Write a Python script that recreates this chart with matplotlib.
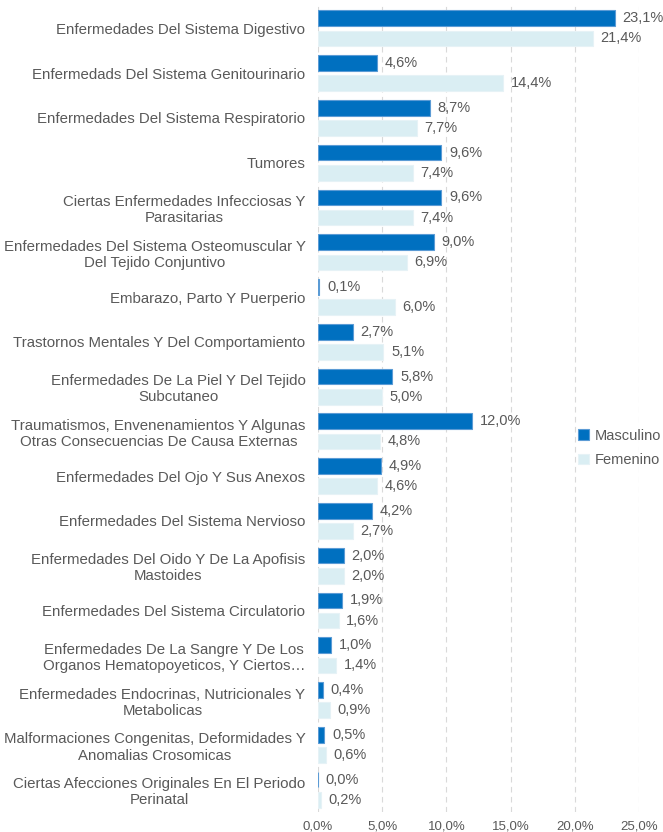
import numpy as np
import matplotlib.pyplot as plt

plt.rcParams['font.family'] = ['Liberation Sans', 'DejaVu Sans']

categories = [
    "Enfermedades Del Sistema Digestivo",
    "Enfermedads Del Sistema Genitourinario",
    "Enfermedades Del Sistema Respiratorio",
    "Tumores",
    "Ciertas Enfermedades Infecciosas Y\nParasitarias",
    "Enfermedades Del Sistema Osteomuscular Y\nDel Tejido Conjuntivo",
    "Embarazo, Parto Y Puerperio",
    "Trastornos Mentales Y Del Comportamiento",
    "Enfermedades De La Piel Y Del Tejido\nSubcutaneo",
    "Traumatismos, Envenenamientos Y Algunas\nOtras Consecuencias De Causa Externas",
    "Enfermedades Del Ojo Y Sus Anexos",
    "Enfermedades Del Sistema Nervioso",
    "Enfermedades Del Oido Y De La Apofisis\nMastoides",
    "Enfermedades Del Sistema Circulatorio",
    "Enfermedades De La Sangre Y De Los\nOrganos Hematopoyeticos, Y Ciertos\u2026",
    "Enfermedades Endocrinas, Nutricionales Y\nMetabolicas",
    "Malformaciones Congenitas, Deformidades Y\nAnomalias Crosomicas",
    "Ciertas Afecciones Originales En El Periodo\nPerinatal",
]
masculino = [23.1, 4.6, 8.7, 9.6, 9.6, 9.0, 0.1, 2.7, 5.8, 12.0, 4.9, 4.2, 2.0, 1.9, 1.0, 0.4, 0.5, 0.0]
femenino = [21.4, 14.4, 7.7, 7.4, 7.4, 6.9, 6.0, 5.1, 5.0, 4.8, 4.6, 2.7, 2.0, 1.6, 1.4, 0.9, 0.6, 0.2]
x_ticks = [0, 5, 10, 15, 20, 25]

text_color = '#595959'
c_masc = '#0070C0'
c_fem = '#DAEEF3'

fig = plt.figure(figsize=(6.63, 8.32), dpi=100)
ax = fig.add_axes([318 / 663, 1 - 812 / 832, (639 - 318) / 663, (812 - 6) / 832])

y = np.arange(len(categories))
off = 0.225
h = 0.35
ax.barh(y - off, masculino, height=h, color=c_masc, edgecolor='#5B9BD5', linewidth=0.8,
        label='Masculino', zorder=3)
ax.barh(y + off, femenino, height=h, color=c_fem, edgecolor='#E6F2F6', linewidth=0.8,
        label='Femenino', zorder=3)

def fmt(v):
    return f"{v:.1f}%".replace('.', ',')

for yi, v in zip(y, masculino):
    ax.text(v + 0.6, yi - off, fmt(v), va='center', ha='left', fontsize=10.5, color=text_color)
for yi, v in zip(y, femenino):
    ax.text(v + 0.6, yi + off, fmt(v), va='center', ha='left', fontsize=10.5, color=text_color)

ax.set_xlim(0, 25)
ax.set_ylim(len(categories) - 0.5, -0.5)
ax.set_xticks(x_ticks)
ax.set_xticklabels([fmt(t) for t in x_ticks], fontsize=9.5, color=text_color)
ax.set_yticks(y)
ax.set_yticklabels(categories, fontsize=10.8, color=text_color, multialignment='center')
ax.tick_params(axis='both', length=0)
ax.tick_params(axis='y', pad=9)
ax.tick_params(axis='x', pad=6)
ax.grid(axis='x', linestyle=(0, (5, 4)), color='#D9D9D9', linewidth=0.8, zorder=0)
for s in ax.spines.values():
    s.set_visible(False)

ax.legend(loc='center left', bbox_to_anchor=(0.77, 0.452), frameon=False, fontsize=10.5,
          labelcolor=text_color, handlelength=0.7, handleheight=0.7, handletextpad=0.4,
          labelspacing=0.7)

fig.savefig('out.png', dpi=100)
